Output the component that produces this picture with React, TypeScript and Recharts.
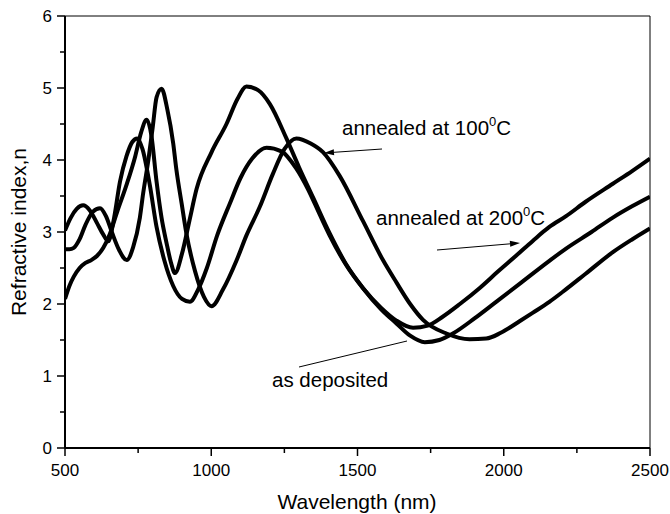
import React from "react";
import { LineChart, Line, XAxis, YAxis, ReferenceLine } from "recharts";

// Refractive index vs wavelength, three films
const wlDeposited = [500, 515, 530, 550, 570, 590, 610, 631, 653, 680, 710, 740, 760, 779, 795, 813, 830, 847, 862, 876, 900, 925, 950, 1000, 1052, 1090, 1120, 1160, 1200, 1257, 1300, 1348, 1405, 1460, 1519, 1580, 1633, 1680, 1730, 1780, 1826, 1900, 1974, 2054, 2156, 2213, 2300, 2373, 2440, 2500];
const nDeposited = [2.07, 2.25, 2.38, 2.5, 2.57, 2.61, 2.67, 2.78, 2.97, 3.3, 3.65, 4.05, 4.38, 4.56, 4.35, 3.7, 3.2, 2.85, 2.58, 2.43, 2.7, 3.15, 3.6, 4.1, 4.5, 4.85, 5.02, 4.97, 4.78, 4.3, 3.9, 3.48, 2.98, 2.56, 2.22, 1.93, 1.73, 1.56, 1.47, 1.5, 1.59, 1.8, 2.03, 2.28, 2.6, 2.77, 3.0, 3.2, 3.36, 3.49];

const wl100 = [500, 515, 530, 550, 570, 595, 620, 640, 660, 685, 711, 733, 756, 767, 785, 800, 813, 830, 850, 870, 881, 899, 915, 945, 975, 1001, 1040, 1086, 1120, 1166, 1210, 1250, 1291, 1340, 1382, 1439, 1519, 1587, 1633, 1680, 1724, 1804, 1883, 1940, 1990, 2054, 2100, 2156, 2202, 2280, 2373, 2440, 2500];
const n100 = [2.76, 2.76, 2.78, 2.9, 3.1, 3.28, 3.33, 3.22, 3.0, 2.75, 2.61, 2.79, 3.2, 3.53, 4.0, 4.46, 4.87, 4.99, 4.7, 4.23, 3.86, 3.39, 2.98, 2.45, 2.1, 1.97, 2.2, 2.6, 2.95, 3.35, 3.8, 4.15, 4.3, 4.23, 4.11, 3.78, 3.15, 2.61, 2.3, 2.0, 1.78, 1.59, 1.51, 1.52, 1.6, 1.76, 1.88, 2.03, 2.17, 2.42, 2.72, 2.9, 3.05];

const wl200 = [500, 520, 540, 562, 585, 610, 630, 648, 668, 688, 710, 730, 747, 765, 790, 813, 840, 870, 900, 927, 955, 985, 1020, 1064, 1100, 1140, 1189, 1240, 1291, 1330, 1370, 1405, 1460, 1519, 1580, 1633, 1690, 1740, 1790, 1850, 1917, 1980, 2042, 2100, 2156, 2213, 2280, 2373, 2440, 2500];
const n200 = [3.02, 3.2, 3.32, 3.37, 3.3, 3.12, 2.97, 2.87, 3.2, 3.7, 4.05, 4.25, 4.3, 4.15, 3.65, 3.07, 2.6, 2.25, 2.07, 2.03, 2.2, 2.5, 2.95, 3.4, 3.75, 4.02, 4.17, 4.12, 3.88, 3.6, 3.25, 2.95, 2.55, 2.22, 1.95, 1.77, 1.67, 1.7, 1.82, 2.0, 2.22, 2.45, 2.67, 2.88, 3.07, 3.22, 3.42, 3.67, 3.85, 4.02];

const xTicks = [500, 750, 1000, 1250, 1500, 1750, 2000, 2250, 2500];
const yTicks = [0, 0.5, 1, 1.5, 2, 2.5, 3, 3.5, 4, 4.5, 5, 5.5, 6];

const zip = (xs: number[], ys: number[]) => xs.map((x, i) => ({ x, n: ys[i] }));

const FONT = "'Liberation Sans', Arial, Helvetica, sans-serif";

const XTick = (props: any) => {
  const { x, y, payload } = props;
  const major = payload.value % 500 === 0;
  return (
    <g>
      <line x1={x} y1={y} x2={x} y2={y + (major ? 8 : 5)} stroke="#000" strokeWidth={1.5} />
      {major && (
        <text x={x} y={y + 22} textAnchor="middle" dominantBaseline="central" fontSize={17} fontFamily={FONT} fill="#000">
          {payload.value}
        </text>
      )}
    </g>
  );
};

const YTick = (props: any) => {
  const { x, y, payload } = props;
  const major = Number.isInteger(payload.value);
  return (
    <g>
      <line x1={x} y1={y} x2={x - (major ? 8 : 5)} y2={y} stroke="#000" strokeWidth={1.5} />
      {major && (
        <text x={x - 13} y={y} textAnchor="end" dominantBaseline="central" fontSize={17} fontFamily={FONT} fill="#000">
          {payload.value}
        </text>
      )}
    </g>
  );
};

function Arrow({ x1, y1, x2, y2, head = true }: { x1: number; y1: number; x2: number; y2: number; head?: boolean }) {
  const a = Math.atan2(y2 - y1, x2 - x1);
  const L = 10;
  const W = 3;
  const bx = x2 - L * Math.cos(a);
  const by = y2 - L * Math.sin(a);
  const px = -Math.sin(a) * W;
  const py = Math.cos(a) * W;
  return (
    <g>
      <line x1={x1} y1={y1} x2={head ? bx : x2} y2={head ? by : y2} stroke="#000" strokeWidth={1} />
      {head && <polygon points={`${x2},${y2} ${bx + px},${by + py} ${bx - px},${by - py}`} fill="#000" />}
    </g>
  );
}

function Deg({ x, y, t }: { x: number; y: number; t: string }) {
  return (
    <text x={x} y={y} fontSize={20.5} fontFamily={FONT} fill="#000">
      {t}
      <tspan dy={-9} fontSize={13}>0</tspan>
      <tspan dy={9}>C</tspan>
    </text>
  );
}

export default function App() {
  const series = [zip(wlDeposited, nDeposited), zip(wl100, n100), zip(wl200, n200)];
  return (
    <div style={{ position: "absolute", left: 0, top: 0, width: 670, height: 514, background: "#fff" }}>
      <LineChart width={670} height={514} margin={{ top: 16, right: 20, left: 0, bottom: 0 }}>
        <XAxis
          dataKey="x"
          type="number"
          domain={[500, 2500]}
          ticks={xTicks}
          allowDataOverflow
          height={66}
          tickSize={0}
          tickMargin={0}
          tickLine={false}
          tick={<XTick />}
          axisLine={{ stroke: "#000", strokeWidth: 2 }}
        />
        <YAxis
          type="number"
          domain={[0, 6]}
          ticks={yTicks}
          width={65}
          tickSize={0}
          tickMargin={0}
          tickLine={false}
          tick={<YTick />}
          axisLine={{ stroke: "#000", strokeWidth: 2 }}
        />
        <ReferenceLine y={6} stroke="#000" strokeWidth={1} />
        <ReferenceLine x={2500} stroke="#000" strokeWidth={1} />
        {series.map((d, i) => (
          <Line
            key={i}
            data={d}
            dataKey="n"
            type="monotone"
            stroke="#000"
            strokeWidth={4}
            dot={false}
            isAnimationActive={false}
          />
        ))}
      </LineChart>
      <svg width={670} height={514} style={{ position: "absolute", left: 0, top: 0, pointerEvents: "none" }}>
        <text x={357} y={501} textAnchor="middle" dominantBaseline="central" fontSize={21} fontFamily={FONT} fill="#000">
          Wavelength (nm)
        </text>
        <text
          x={18}
          y={232}
          textAnchor="middle"
          dominantBaseline="central"
          fontSize={21}
          fontFamily={FONT}
          fill="#000"
          transform="rotate(-90 18 232)"
        >
          Refractive index,n
        </text>
        <Deg x={342} y={135} t="annealed at 100" />
        <Arrow x1={382} y1={149} x2={324} y2={153} />
        <Deg x={376} y={225} t="annealed at 200" />
        <Arrow x1={437} y1={250} x2={520} y2={243} />
        <text x={272} y={387} fontSize={20.5} fontFamily={FONT} fill="#000">
          as deposited
        </text>
        <Arrow x1={299} y1={367} x2={407} y2={341} head={false} />
      </svg>
    </div>
  );
}
